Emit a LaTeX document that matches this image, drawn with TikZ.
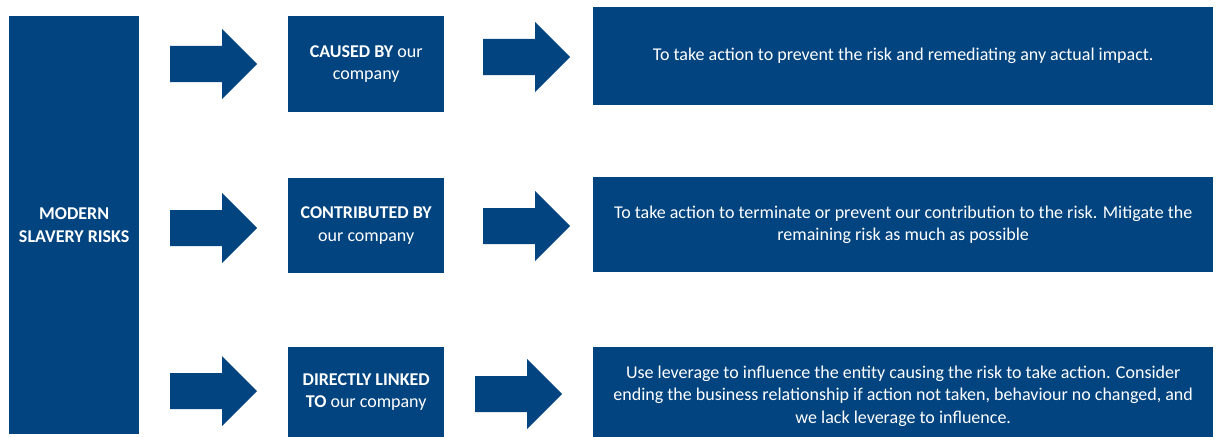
\documentclass[tikz,border=0pt]{standalone}
\usepackage{fontspec}
\setmainfont{Carlito}
\begin{document}
\begin{tikzpicture}[x=1pt,y=-1pt,
  font=\fontsize{18}{22.5}\selectfont,
  box/.style={fill=brand, text=white, inner sep=0pt, align=center, anchor=north west},
  blockarrow/.pic={\fill[brand] (0,-18) -- (52,-18) -- (52,-35) -- (87,0) -- (52,35) -- (52,18) -- (0,18) -- cycle;}]
\definecolor{brand}{HTML}{02447F}
\useasboundingbox (0,0) rectangle (1217,436);

% risk category on the left
\node[box, minimum width=130pt, minimum height=418pt] (risks) at (9,16)
  {\textbf{MODERN}\\\textbf{SLAVERY RISKS}};

% how the company relates to the risk
\node[box, minimum width=156pt, minimum height=96pt] (caused) at (288,16)
  {\textbf{CAUSED BY} our\\company};
\node[box, minimum width=156pt, minimum height=95pt] (contrib) at (288,178)
  {\textbf{CONTRIBUTED BY}\\our company};
\node[box, minimum width=156pt, minimum height=90pt] (linked) at (288,347)
  {\textbf{DIRECTLY LINKED}\\\textbf{TO} our company};

% expected response (the last box runs off the bottom edge)
\node[box, minimum width=620pt, minimum height=98pt] (act1) at (593,7)
  {To take action to prevent the risk and remediating any actual impact.};
\node[box, minimum width=620pt, minimum height=95pt] (act2) at (593,177)
  {To take action to terminate or prevent our contribution to the risk. Mitigate the\\remaining risk as much as possible};
\node[box, minimum width=620pt, minimum height=98pt] (act3) at (593,347)
  {Use leverage to influence the entity causing the risk to take action. Consider\\ending the business relationship if action not taken, behaviour no changed, and\\we lack leverage to influence.};

% block arrows between the columns
\pic at (170,64) {blockarrow};
\pic at (170,228) {blockarrow};
\pic at (170,391) {blockarrow};
\pic at (483,57) {blockarrow};
\pic at (483,226) {blockarrow};
\pic at (475,394) {blockarrow};
\end{tikzpicture}
\end{document}
